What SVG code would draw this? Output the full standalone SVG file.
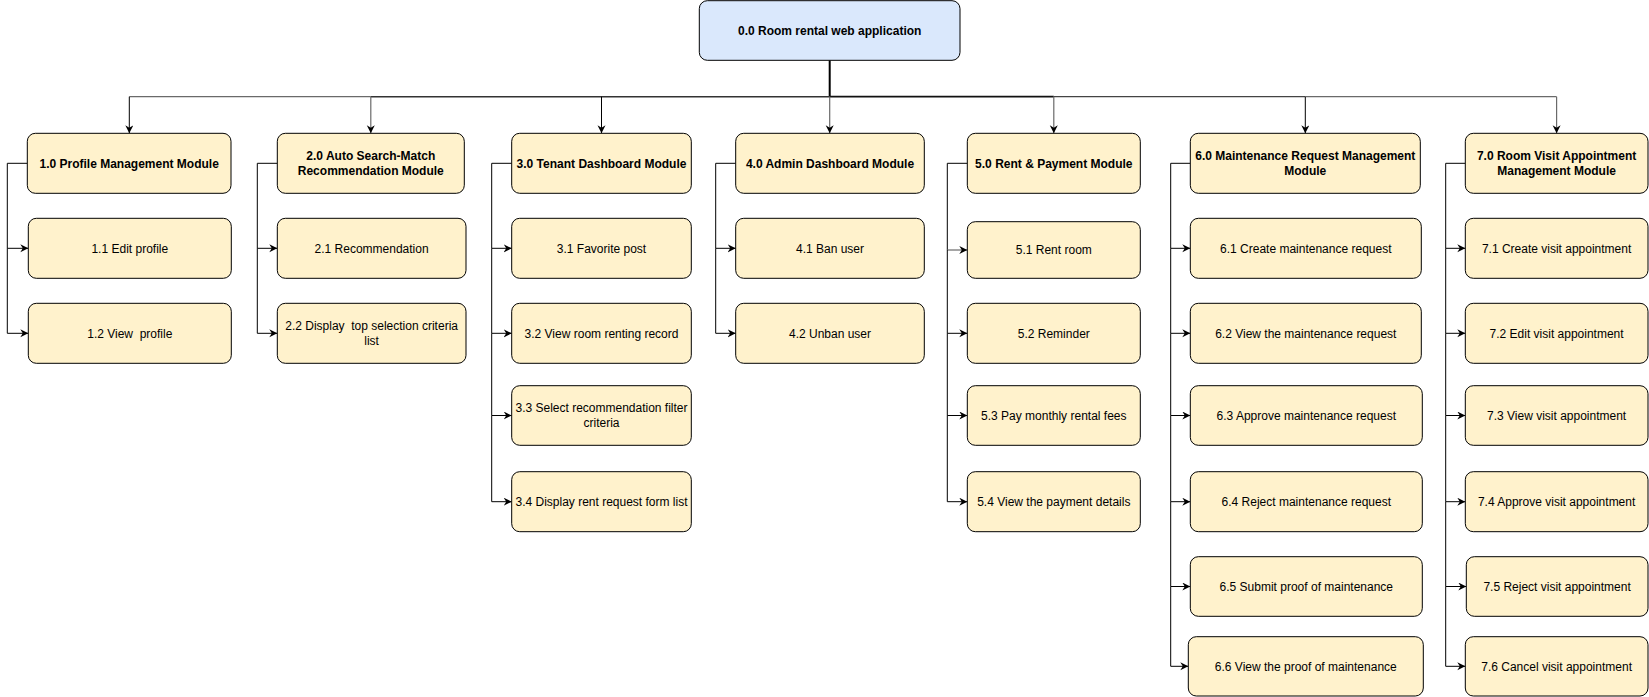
<svg xmlns="http://www.w3.org/2000/svg" width="1649" height="697" viewBox="0 0 1649 697">
<style>
.root{fill:#dae8fc;stroke:#000;stroke-width:1}
.box{fill:#fff2cc;stroke:#000;stroke-width:1}
.t{font-family:"Liberation Sans",Arial,sans-serif;font-size:12px;fill:#000;text-anchor:middle;white-space:pre}
.b{font-weight:bold}
.c{fill:none;stroke:#000;stroke-width:1}
.g{stroke:#6a6a6a;stroke-width:1.2}
</style>
<defs>
<marker id="arr" markerWidth="10" markerHeight="10" refX="8" refY="4" orient="auto" markerUnits="userSpaceOnUse"><path d="M0,0 L8,4 L0,8 L2.5,4 Z" fill="#000"/></marker>
</defs>
<rect width="1649" height="697" fill="#fff"/>
<g id="connectors">
<path class="c" style="stroke-width:2" d="M829.7,60.3 V96.7"/>
<path class="c g" d="M129.3,96.7 H370.8"/>
<path class="c" style="stroke:#333;stroke-width:1.5" d="M370.8,96.7 H829.7"/>
<path class="c" style="stroke:#111;stroke-width:1.8" d="M829.7,96.7 H1053.8"/>
<path class="c" style="stroke:#444;stroke-width:1.3" d="M1053.8,96.7 H1305.3"/>
<path class="c g" d="M1305.3,96.7 H1556.6"/>
<path class="c" marker-end="url(#arr)" d="M129.3,96.7 V133.3"/>
<path class="c g" marker-end="url(#arr)" d="M370.8,96.7 V133.3"/>
<path class="c" marker-end="url(#arr)" d="M601.5,96.7 V133.3"/>
<path class="c g" marker-end="url(#arr)" d="M829.7,96.7 V133.3"/>
<path class="c g" marker-end="url(#arr)" d="M1053.8,96.7 V133.3"/>
<path class="c" marker-end="url(#arr)" d="M1305.3,96.7 V133.3"/>
<path class="c g" marker-end="url(#arr)" d="M1556.6,96.7 V133.3"/>
<path class="c" marker-end="url(#arr)" d="M27.3,163.3 H7.3 V248.3 H28.3"/>
<path class="c" marker-end="url(#arr)" d="M7.3,248.3 V333.3 H28.3"/>
<path class="c" marker-end="url(#arr)" d="M277.3,163.3 H257.3 V248.3 H277.3"/>
<path class="c" marker-end="url(#arr)" d="M257.3,248.3 V333.3 H277.3"/>
<path class="c" marker-end="url(#arr)" d="M511.7,163.3 H491.7 V248.3 H511.7"/>
<path class="c" marker-end="url(#arr)" d="M491.7,248.3 V333.3 H511.7"/>
<path class="c" marker-end="url(#arr)" d="M491.7,333.3 V415.5 H511.7"/>
<path class="c" marker-end="url(#arr)" d="M491.7,415.5 V501.7 H511.7"/>
<path class="c" marker-end="url(#arr)" d="M735.7,163.3 H715.7 V248.3 H735.7"/>
<path class="c" marker-end="url(#arr)" d="M715.7,248.3 V333.3 H735.7"/>
<path class="c" d="M967.3,163.3 H947.3 V250"/>
<path class="c g" marker-end="url(#arr)" d="M947.3,250 H967.3"/>
<path class="c" marker-end="url(#arr)" d="M947.3,250 V333.3 H967.3"/>
<path class="c" marker-end="url(#arr)" d="M947.3,333.3 V415.5 H967.3"/>
<path class="c" marker-end="url(#arr)" d="M947.3,415.5 V501.7 H967.3"/>
<path class="c" marker-end="url(#arr)" d="M1190.3,163.3 H1170.7 V248.3 H1190.3"/>
<path class="c" marker-end="url(#arr)" d="M1170.7,248.3 V333.3 H1190.3"/>
<path class="c" marker-end="url(#arr)" d="M1170.7,333.3 V415.5 H1190.3"/>
<path class="c" marker-end="url(#arr)" d="M1170.7,415.5 V501.7 H1190.3"/>
<path class="c" marker-end="url(#arr)" d="M1170.7,501.7 V586.5 H1190.3"/>
<path class="c" marker-end="url(#arr)" d="M1170.7,586.5 V666.3 H1188.3"/>
<path class="c" marker-end="url(#arr)" d="M1465.3,163.3 H1445.7 V248.3 H1465.3"/>
<path class="c" marker-end="url(#arr)" d="M1445.7,248.3 V333.3 H1465.3"/>
<path class="c" marker-end="url(#arr)" d="M1445.7,333.3 V415.5 H1465.3"/>
<path class="c" marker-end="url(#arr)" d="M1445.7,415.5 V501.7 H1465.3"/>
<path class="c" marker-end="url(#arr)" d="M1445.7,501.7 V586.5 H1466.3"/>
<path class="c" marker-end="url(#arr)" d="M1445.7,586.5 V666.3 H1465.3"/>
</g>
<g id="n0"><rect class="root" x="699.3" y="0.7" width="260.7" height="59.6" rx="8"/><text class="t b" x="829.7" y="34.5">0.0 Room rental web application</text></g>
<g id="n1"><rect class="box" x="27.3" y="133.3" width="203.7" height="60" rx="8"/><text class="t b" x="129.2" y="167.5">1.0 Profile Management Module</text></g>
<g id="n1_1"><rect class="box" x="28.3" y="218.3" width="203" height="60" rx="8"/><text class="t" x="129.8" y="252.5">1.1 Edit profile</text></g>
<g id="n1_2"><rect class="box" x="28.3" y="303.3" width="203" height="60" rx="8"/><text class="t" x="129.8" y="337.5">1.2 View  profile</text></g>
<g id="n2"><rect class="box" x="277.3" y="133.3" width="187" height="60" rx="8"/><text class="t b" x="370.8" y="160"><tspan x="370.8">2.0 Auto Search-Match</tspan><tspan x="370.8" dy="15">Recommendation Module</tspan></text></g>
<g id="n2_1"><rect class="box" x="277.3" y="218.3" width="188.7" height="60" rx="8"/><text class="t" x="371.6" y="252.5">2.1 Recommendation</text></g>
<g id="n2_2"><rect class="box" x="277.3" y="303.3" width="188.7" height="60" rx="8"/><text class="t" x="371.6" y="330"><tspan x="371.6">2.2 Display  top selection criteria</tspan><tspan x="371.6" dy="15">list</tspan></text></g>
<g id="n3"><rect class="box" x="511.7" y="133.3" width="179.6" height="60" rx="8"/><text class="t b" x="601.5" y="167.5">3.0 Tenant Dashboard Module</text></g>
<g id="n3_1"><rect class="box" x="511.7" y="218.3" width="179.6" height="60" rx="8"/><text class="t" x="601.5" y="252.5">3.1 Favorite post</text></g>
<g id="n3_2"><rect class="box" x="511.7" y="303.3" width="179.6" height="60" rx="8"/><text class="t" x="601.5" y="337.5">3.2 View room renting record</text></g>
<g id="n3_3"><rect class="box" x="511.7" y="385.7" width="179.6" height="59.6" rx="8"/><text class="t" x="601.5" y="412"><tspan x="601.5">3.3 Select recommendation filter</tspan><tspan x="601.5" dy="15">criteria</tspan></text></g>
<g id="n3_4"><rect class="box" x="511.7" y="471.7" width="179.6" height="60" rx="8"/><text class="t" x="601.5" y="505.9">3.4 Display rent request form list</text></g>
<g id="n4"><rect class="box" x="735.7" y="133.3" width="188.6" height="60" rx="8"/><text class="t b" x="830" y="167.5">4.0 Admin Dashboard Module</text></g>
<g id="n4_1"><rect class="box" x="735.7" y="218.3" width="188.6" height="60" rx="8"/><text class="t" x="830" y="252.5">4.1 Ban user</text></g>
<g id="n4_2"><rect class="box" x="735.7" y="303.3" width="188.6" height="60" rx="8"/><text class="t" x="830" y="337.5">4.2 Unban user</text></g>
<g id="n5"><rect class="box" x="967.3" y="133.3" width="173" height="60" rx="8"/><text class="t b" x="1053.8" y="167.5">5.0 Rent &amp; Payment Module</text></g>
<g id="n5_1"><rect class="box" x="967.3" y="221.7" width="173" height="56.6" rx="8"/><text class="t" x="1053.8" y="254.2">5.1 Rent room</text></g>
<g id="n5_2"><rect class="box" x="967.3" y="303.3" width="173" height="60" rx="8"/><text class="t" x="1053.8" y="337.5">5.2 Reminder</text></g>
<g id="n5_3"><rect class="box" x="967.3" y="385.7" width="173" height="59.6" rx="8"/><text class="t" x="1053.8" y="419.7">5.3 Pay monthly rental fees</text></g>
<g id="n5_4"><rect class="box" x="967.3" y="471.7" width="173" height="60" rx="8"/><text class="t" x="1053.8" y="505.9">5.4 View the payment details</text></g>
<g id="n6"><rect class="box" x="1190.3" y="133.3" width="230" height="60" rx="8"/><text class="t b" x="1305.3" y="160"><tspan x="1305.3">6.0 Maintenance Request Management</tspan><tspan x="1305.3" dy="15">Module</tspan></text></g>
<g id="n6_1"><rect class="box" x="1190.3" y="218.3" width="231" height="60" rx="8"/><text class="t" x="1305.8" y="252.5">6.1 Create maintenance request</text></g>
<g id="n6_2"><rect class="box" x="1190.3" y="303.3" width="231" height="60" rx="8"/><text class="t" x="1305.8" y="337.5">6.2 View the maintenance request</text></g>
<g id="n6_3"><rect class="box" x="1190.3" y="385.7" width="232" height="59.6" rx="8"/><text class="t" x="1306.3" y="419.7">6.3 Approve maintenance request</text></g>
<g id="n6_4"><rect class="box" x="1190.3" y="471.7" width="232" height="60" rx="8"/><text class="t" x="1306.3" y="505.9">6.4 Reject maintenance request</text></g>
<g id="n6_5"><rect class="box" x="1190.3" y="556.7" width="232" height="59.6" rx="8"/><text class="t" x="1306.3" y="590.7">6.5 Submit proof of maintenance</text></g>
<g id="n6_6"><rect class="box" x="1188.3" y="636.7" width="235" height="59.3" rx="8"/><text class="t" x="1305.8" y="670.5">6.6 View the proof of maintenance</text></g>
<g id="n7"><rect class="box" x="1465.3" y="133.3" width="182.7" height="60" rx="8"/><text class="t b" x="1556.6" y="160"><tspan x="1556.6">7.0 Room Visit Appointment</tspan><tspan x="1556.6" dy="15">Management Module</tspan></text></g>
<g id="n7_1"><rect class="box" x="1465.3" y="218.3" width="182.7" height="60" rx="8"/><text class="t" x="1556.6" y="252.5">7.1 Create visit appointment</text></g>
<g id="n7_2"><rect class="box" x="1465.3" y="303.3" width="182.7" height="60" rx="8"/><text class="t" x="1556.6" y="337.5">7.2 Edit visit appointment</text></g>
<g id="n7_3"><rect class="box" x="1465.3" y="385.7" width="182.7" height="59.6" rx="8"/><text class="t" x="1556.6" y="419.7">7.3 View visit appointment</text></g>
<g id="n7_4"><rect class="box" x="1465.3" y="471.7" width="182.7" height="60" rx="8"/><text class="t" x="1556.6" y="505.9">7.4 Approve visit appointment</text></g>
<g id="n7_5"><rect class="box" x="1466.3" y="556.7" width="181.7" height="59.6" rx="8"/><text class="t" x="1557.1" y="590.7">7.5 Reject visit appointment</text></g>
<g id="n7_6"><rect class="box" x="1465.3" y="636.7" width="182.7" height="59.3" rx="8"/><text class="t" x="1556.6" y="670.5">7.6 Cancel visit appointment</text></g>
</svg>
